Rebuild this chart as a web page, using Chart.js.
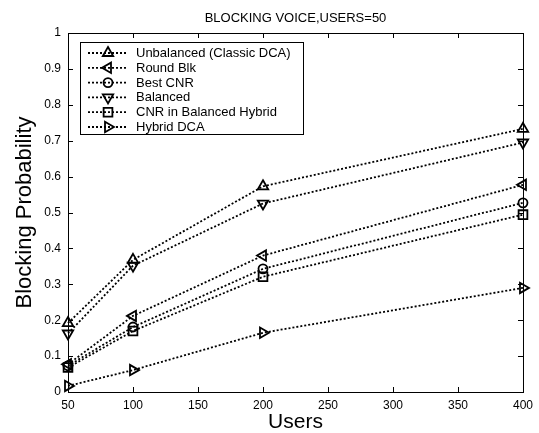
<!DOCTYPE html>
<html>
<head>
<meta charset="utf-8">
<script src="https://cdn.jsdelivr.net/npm/chart.js@4.4.0/dist/chart.umd.min.js"></script>
<style>
  html, body { margin: 0; padding: 0; background: #fff; }
  #wrap { width: 539px; height: 433px; }
</style>
</head>
<body>
<div id="wrap"><canvas id="blocking" width="539" height="433"></canvas></div>
<script>
// values
const users = [50, 100, 200, 400];
const unbalanced = [0.192, 0.368, 0.573, 0.733];
const roundBlk = [0.077, 0.212, 0.380, 0.577];
const bestCnr = [0.073, 0.181, 0.343, 0.527];
const balanced = [0.163, 0.352, 0.525, 0.695];
const cnrHybrid = [0.068, 0.170, 0.321, 0.494];
const hybridDca = [0.017, 0.061, 0.165, 0.290];

const seriesNames = ['Unbalanced (Classic DCA)', 'Round Blk', 'Best CNR', 'Balanced', 'CNR in Balanced Hybrid', 'Hybrid DCA'];
const seriesValues = [unbalanced, roundBlk, bestCnr, balanced, cnrHybrid, hybridDca];
const xTickValues = [50, 100, 150, 200, 250, 300, 350, 400];
const yTickValues = [0, 0.1, 0.2, 0.3, 0.4, 0.5, 0.6, 0.7, 0.8, 0.9, 1];

const FONT = "'Liberation Sans', Arial, Helvetica, sans-serif";

// marker per series: style, rotation, radius
const markers = [
    { style: 'triangle', rot: 0, r: 6 },
    { style: 'triangle', rot: -90, r: 6 },
    { style: 'circle', rot: 0, r: 4.5 },
    { style: 'triangle', rot: 180, r: 6 },
    { style: 'rect', rot: 0, r: 6.2 },
    { style: 'triangle', rot: 90, r: 6 }
];

const datasets = seriesNames.map((name, i) => ({
    label: name,
    data: users.map((u, j) => ({ x: u, y: seriesValues[i][j] })),
    borderColor: '#000',
    borderWidth: 1.8,
    borderDash: [2, 2],
    borderCapStyle: 'butt',
    tension: 0,
    fill: false,
    pointStyle: markers[i].style,
    pointRotation: markers[i].rot,
    pointRadius: markers[i].r,
    pointBorderWidth: 1.8,
    pointBorderColor: '#000',
    pointBackgroundColor: 'rgba(0,0,0,0)',
    clip: false
}));

// MATLAB-like box with inward ticks, title and boxed legend
const matlabFrame = {
    id: 'matlabFrame',
    afterDatasetsDraw(chart) {
        const ctx = chart.ctx;
        const a = chart.chartArea;
        const xs = chart.scales.x, ys = chart.scales.y;
        const tick = 5;
        ctx.save();
        ctx.strokeStyle = '#000';
        ctx.lineWidth = 1;
        ctx.strokeRect(a.left + 0.5, a.top + 0.5, a.right - a.left, a.bottom - a.top);
        ctx.beginPath();
        xTickValues.forEach(v => {
            const px = Math.round(xs.getPixelForValue(v)) + 0.5;
            ctx.moveTo(px, a.bottom); ctx.lineTo(px, a.bottom - tick);
            ctx.moveTo(px, a.top); ctx.lineTo(px, a.top + tick);
        });
        yTickValues.forEach(v => {
            const py = Math.round(ys.getPixelForValue(v)) + 0.5;
            ctx.moveTo(a.left, py); ctx.lineTo(a.left + tick, py);
            ctx.moveTo(a.right, py); ctx.lineTo(a.right - tick, py);
        });
        ctx.stroke();

        // title
        ctx.fillStyle = '#000';
        ctx.font = '13px ' + FONT;
        ctx.textAlign = 'center';
        ctx.textBaseline = 'middle';
        ctx.fillText('BLOCKING VOICE,USERS=50', (a.left + a.right) / 2, 18);

        // legend
        const lx = a.left + 12, ly = a.top + 9, lw = 223, lh = 92;
        ctx.fillStyle = '#fff';
        ctx.fillRect(lx, ly, lw, lh);
        ctx.strokeRect(lx + 0.5, ly + 0.5, lw, lh);
        ctx.textAlign = 'left';
        chart.data.datasets.forEach((ds, i) => {
            const y = ly + 11 + i * 14.8;
            ctx.save();
            ctx.strokeStyle = '#000';
            ctx.lineWidth = 1.8;
            ctx.setLineDash([2, 2]);
            ctx.beginPath();
            ctx.moveTo(lx + 8, y);
            ctx.lineTo(lx + 48, y);
            ctx.stroke();
            ctx.setLineDash([]);
            ctx.fillStyle = 'rgba(0,0,0,0)';
            Chart.helpers.drawPoint(ctx, {
                pointStyle: ds.pointStyle,
                rotation: ds.pointRotation,
                radius: ds.pointRadius,
                borderWidth: 1.8
            }, lx + 28, y);
            ctx.restore();
            ctx.fillStyle = '#000';
            ctx.fillText(ds.label, lx + 56, y + 0.5);
        });
        ctx.restore();
    }
};

new Chart(document.getElementById('blocking').getContext('2d'), {
    type: 'line',
    data: { datasets: datasets },
    options: {
        responsive: false,
        animation: false,
        events: [],
        layout: { padding: { top: 33, right: 13, left: 0, bottom: 0 } },
        plugins: {
            legend: { display: false },
            title: { display: false },
            tooltip: { enabled: false }
        },
        scales: {
            x: {
                type: 'linear',
                min: 50,
                max: 400,
                afterBuildTicks: scale => { scale.ticks = xTickValues.map(v => ({ value: v })); },
                afterFit: scale => { scale.height = 41; },
                grid: { display: false, drawTicks: false },
                border: { display: false },
                ticks: { padding: 6, color: '#000', maxRotation: 0, font: { family: FONT, size: 12 } },
                title: {
                    display: true,
                    text: 'Users',
                    color: '#000',
                    padding: { top: 0, bottom: 0 },
                    font: { family: FONT, size: 21, lineHeight: 1 }
                }
            },
            y: {
                type: 'linear',
                min: 0,
                max: 1,
                afterBuildTicks: scale => { scale.ticks = yTickValues.map(v => ({ value: v })); },
                afterFit: scale => { scale.width = 68; },
                grid: { display: false, drawTicks: false },
                border: { display: false },
                ticks: {
                    padding: 7,
                    color: '#000',
                    font: { family: FONT, size: 12 },
                    callback: v => String(+v.toFixed(2))
                },
                title: {
                    display: true,
                    text: 'Blocking Probability',
                    color: '#000',
                    padding: { top: 14, bottom: 0 },
                    font: { family: FONT, size: 22, lineHeight: 1 }
                }
            }
        }
    },
    plugins: [matlabFrame]
});
</script>
</body>
</html>
